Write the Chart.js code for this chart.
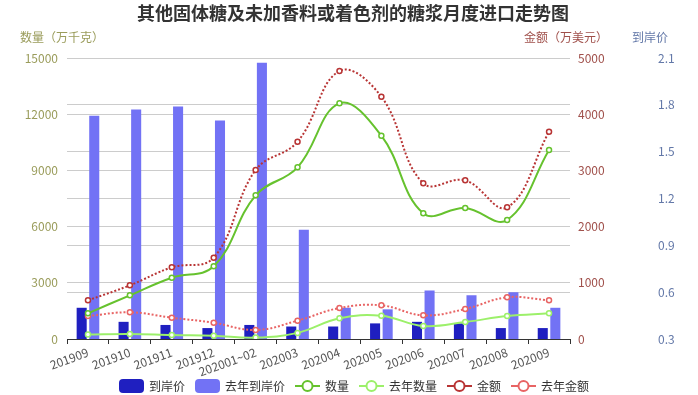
<!DOCTYPE html>
<html>
<head>
<meta charset="utf-8">
<script src="https://cdn.jsdelivr.net/npm/chart.js@4/dist/chart.umd.min.js"></script>
<style>
html,body{margin:0;padding:0;background:#fff;}
#wrap{width:698px;height:395px;position:relative;}
</style>
</head>
<body>
<div id="wrap"><canvas id="c" width="698" height="395"></canvas></div>
<script>
const titleText = '其他固体糖及未加香料或着色剂的糖浆月度进口走势图';
const categories = ['201909','201910','201911','201912','202001~02','202003','202004','202005','202006','202007','202008','202009'];
const price = [0.50,0.41,0.39,0.37,0.39,0.38,0.38,0.40,0.41,0.40,0.37,0.37];
const lastYearPrice = [1.73,1.77,1.79,1.70,2.07,1.00,0.50,0.49,0.61,0.58,0.60,0.50];
const quantity = [1372,2333,3273,3880,7670,9165,12580,10853,6710,6993,6352,10089];
const lastYearQuantity = [236,268,212,171,77,326,1103,1246,694,907,1228,1370];
const amount = [688,955,1275,1447,3007,3510,4768,4311,2770,2823,2343,3688];
const lastYearAmount = [409,475,379,290,160,326,551,599,421,534,742,688];
const axisNames = ['数量（万千克）','金额（万美元）','到岸价'];

const FONT = '"Noto Sans CJK SC", "Noto Sans", sans-serif';
Chart.defaults.font.family = FONT;
Chart.defaults.font.size = 12;

const C = {
  bar: '#1f1fc0', bar2: '#7272f5',
  q: '#66c22e', q2: '#9cf06a',
  a: '#b83434', a2: '#e86464'
};

function lineDs(label, data, color, axis, dash) {
  return {
    type: 'line', label, data, yAxisID: axis,
    borderColor: color, backgroundColor: '#fff',
    borderWidth: 2, borderDash: dash || [],
    pointRadius: 2.5, pointBorderWidth: 1.5, pointBackgroundColor: '#fff', pointBorderColor: color,
    tension: 0.4, order: 1, fill: false
  };
}

const legendItems = [
  {label:'到岸价', type:'bar', color:C.bar},
  {label:'去年到岸价', type:'bar', color:C.bar2},
  {label:'数量', type:'line', color:C.q},
  {label:'去年数量', type:'line', color:C.q2},
  {label:'金额', type:'line', color:C.a},
  {label:'去年金额', type:'line', color:C.a2}
];

const decor = {
  id: 'decor',
  afterDraw(chart) {
    const ctx = chart.ctx;
    ctx.save();
    ctx.font = 'bold 18px ' + FONT;
    ctx.fillStyle = '#333';
    ctx.textAlign = 'center';
    ctx.textBaseline = 'middle';
    ctx.fillText(titleText, 353, 13);
    ctx.font = '12px ' + FONT;
    ctx.fillStyle = '#9a9c5b';
    ctx.fillText(axisNames[0], 62, 37);
    ctx.fillStyle = '#a0504b';
    ctx.fillText(axisNames[1], 566, 37);
    ctx.fillStyle = '#6378a8';
    ctx.fillText(axisNames[2], 650, 37);
    ctx.font = '12px ' + FONT;
    const iconW = 25, gapT = 5, gapI = 10;
    const widths = legendItems.map(it => iconW + gapT + ctx.measureText(it.label).width);
    const total = widths.reduce((a,b)=>a+b,0) + gapI*(legendItems.length-1);
    let x = 354 - total/2;
    const cy = 386;
    legendItems.forEach((it, i) => {
      if (it.type === 'bar') {
        ctx.fillStyle = it.color;
        ctx.beginPath();
        if (ctx.roundRect) ctx.roundRect(x, cy-7, iconW, 14, 4); else ctx.rect(x, cy-7, iconW, 14);
        ctx.fill();
      } else {
        ctx.strokeStyle = it.color;
        ctx.lineWidth = 2;
        ctx.beginPath(); ctx.moveTo(x, cy); ctx.lineTo(x+iconW, cy); ctx.stroke();
        ctx.beginPath(); ctx.arc(x+iconW/2, cy, 5, 0, Math.PI*2);
        ctx.fillStyle = '#fff'; ctx.fill(); ctx.stroke();
      }
      ctx.fillStyle = '#333';
      ctx.textAlign = 'left';
      ctx.textBaseline = 'middle';
      ctx.fillText(it.label, x + iconW + gapT, cy);
      x += widths[i] + gapI;
    });
    ctx.restore();
  }
};

new Chart(document.getElementById('c'), {
  data: {
    labels: categories,
    datasets: [
      {type:'bar', label:'到岸价', data: price, yAxisID:'y2', backgroundColor:C.bar, order:10, categoryPercentage:0.6, barPercentage:0.8},
      {type:'bar', label:'去年到岸价', data: lastYearPrice, yAxisID:'y2', backgroundColor:C.bar2, order:10, categoryPercentage:0.6, barPercentage:0.8},
      lineDs('数量', quantity, C.q, 'y'),
      lineDs('去年数量', lastYearQuantity, C.q2, 'y'),
      lineDs('金额', amount, C.a, 'y1', [2,2]),
      lineDs('去年金额', lastYearAmount, C.a2, 'y1', [2,2])
    ]
  },
  options: {
    responsive: false,
    animation: false,
    layout: {padding: {top:58, left:0, right:0, bottom:0}},
    plugins: {legend:{display:false}, title:{display:false}, tooltip:{enabled:false}},
    scales: {
      x: {
        grid: {display:true, drawOnChartArea:false, drawTicks:true, tickLength:5, color:'#333', offset:true},
        border: {display:true, color:'#333', width:1},
        ticks: {maxRotation:20, minRotation:20, autoSkip:false, color:'#555', padding:1, font:{size:12}},
        afterFit: s => { s.height = 56; }
      },
      y: {
        position:'left', min:0, max:15000,
        ticks: {stepSize:3000, color:'#9a9c5b', padding:9, callback: v => String(v)},
        grid: {color:'#ccc', drawTicks:false},
        border: {display:false},
        afterFit: s => { s.width = 67; }
      },
      y1: {
        position:'right', min:0, max:5000, weight:0,
        ticks: {stepSize:1000, color:'#a0504b', padding:8, callback: v => String(v)},
        grid: {drawOnChartArea:false, drawTicks:false},
        border: {display:false},
        afterFit: s => { s.width = 80; }
      },
      y2: {
        position:'right', min:0.3, max:2.1, weight:1,
        ticks: {stepSize:0.3, color:'#6378a8', padding:8, callback: v => Number(v).toFixed(1)},
        grid: {color:'#ccc', drawTicks:false},
        border: {display:false},
        afterFit: s => { s.width = 48; }
      }
    }
  },
  plugins: [decor]
});
</script>
</body>
</html>
